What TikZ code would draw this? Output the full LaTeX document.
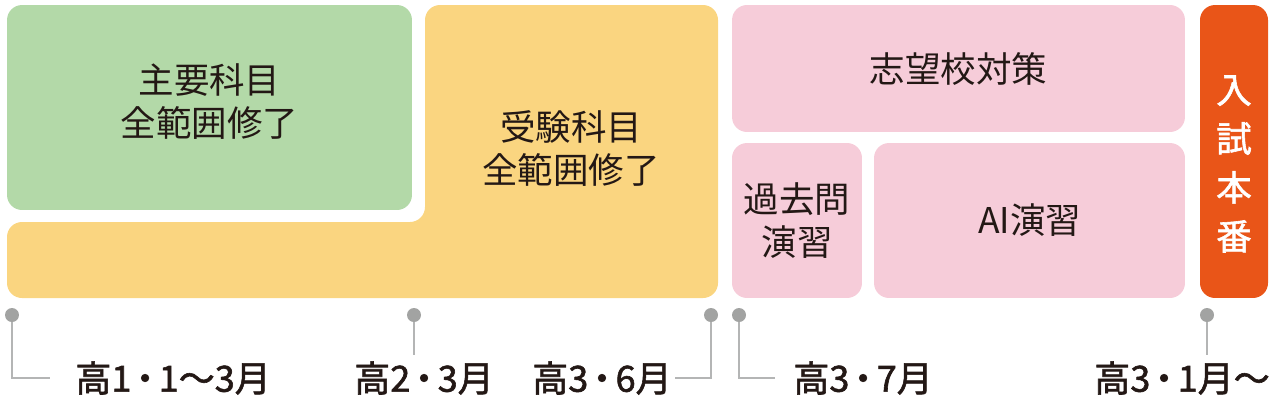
\documentclass[tikz,border=0pt]{standalone}
\usepackage{fontspec}
\setmainfont{Noto Sans CJK JP}
\newfontfamily\medjp[FakeBold=1.6]{Noto Sans CJK JP}
\newcommand\nakaguro{\kern-0.12em・\kern-0.12em}
\usetikzlibrary{positioning}

\definecolor{subjgreen}{HTML}{B3D9A8}
\definecolor{examyellow}{HTML}{FAD580}
\definecolor{targetpink}{HTML}{F6CCD9}
\definecolor{finalorange}{HTML}{E95518}
\definecolor{inkdark}{HTML}{231815}
\definecolor{dotgray}{HTML}{A2A3A2}
\definecolor{linegray}{HTML}{B4B5B5}

\begin{document}
\begin{tikzpicture}[x=0.02cm,y=-0.02cm,
	box/.style={rectangle,rounded corners=0.3cm,inner sep=0pt,align=center,text=inkdark,
		font=\fontsize{20.2}{24.5}\selectfont},
	tick/.style={circle,fill=dotgray,inner sep=0pt,minimum size=0.28cm},
	when/.style={inner sep=0pt,text=inkdark,font=\fontsize{20.5}{24}\selectfont\medjp},
	wire/.style={draw=linegray,line width=1.3pt}]

	\useasboundingbox (0,0) rectangle (1275,400);

	%boxes
	\node[box,fill=subjgreen,minimum width=8.1cm,minimum height=4.1cm] (main) at (209.5,107.5) {}; %green box
	\node[box] (mainlbl) at (209.5,102) {主要科目\\全範囲修了}; %green label
	\fill[examyellow,rounded corners=0.3cm] (425,5) -- (718,5) -- (718,298) -- (7,298) -- (7,222) -- (425,222) -- cycle; %yellow L
	\node[box] (exam) at (571,148) {受験科目\\全範囲修了}; %yellow label
	\node[box,fill=targetpink,minimum width=9.06cm,minimum height=2.54cm] (target) at (958.5,68.5) {志望校対策}; %pink top
	\node[box,fill=targetpink,minimum width=2.6cm,minimum height=3.1cm] (past) at (797,220.5) {過去問\\演習}; %pink small
	\node[box,fill=targetpink,minimum width=6.22cm,minimum height=3.1cm] (ai) at (1029.5,220.5) {AI演習}; %pink big
	\node[box,fill=finalorange,minimum width=1.36cm,minimum height=5.86cm] (final) at (1234,151.5) {}; %orange
	\node[box,text=white,font=\fontsize{20.2}{27.8}\selectfont\medjp] (finallbl) at (1234,164) {入\\試\\本\\番}; %orange label

	%timeline dots
	\node[tick] (d1) at (12,315) {};
	\node[tick] (d2) at (414,315) {};
	\node[tick] (d3) at (711,315) {};
	\node[tick] (d4) at (739,315) {};
	\node[tick] (d5) at (1207,315) {};

	%timeline labels
	\node[when,anchor=west] (t1) at (75,378) {高1\nakaguro 1〜3月};
	\node[when] (t2) at (424,378) {高2\nakaguro 3月};
	\node[when,anchor=east] (t3) at (672,378) {高3\nakaguro 6月};
	\node[when,anchor=west] (t4) at (793,378) {高3\nakaguro 7月};
	\node[when] (t5) at (1182,378) {高3\nakaguro 1月〜};

	%connectors
	\draw[wire,shorten >=0.5cm] (d1) |- (t1.west);
	\draw[wire] (d2) -- ([yshift=0.12cm]d2 |- t2.north);
	\draw[wire,shorten >=0.06cm] (d3) |- (t3.east);
	\draw[wire,shorten >=0.36cm] (d4) |- (t4.west);
	\draw[wire] (d5) -- ([yshift=0.12cm]d5 |- t5.north);
\end{tikzpicture}
\end{document}
